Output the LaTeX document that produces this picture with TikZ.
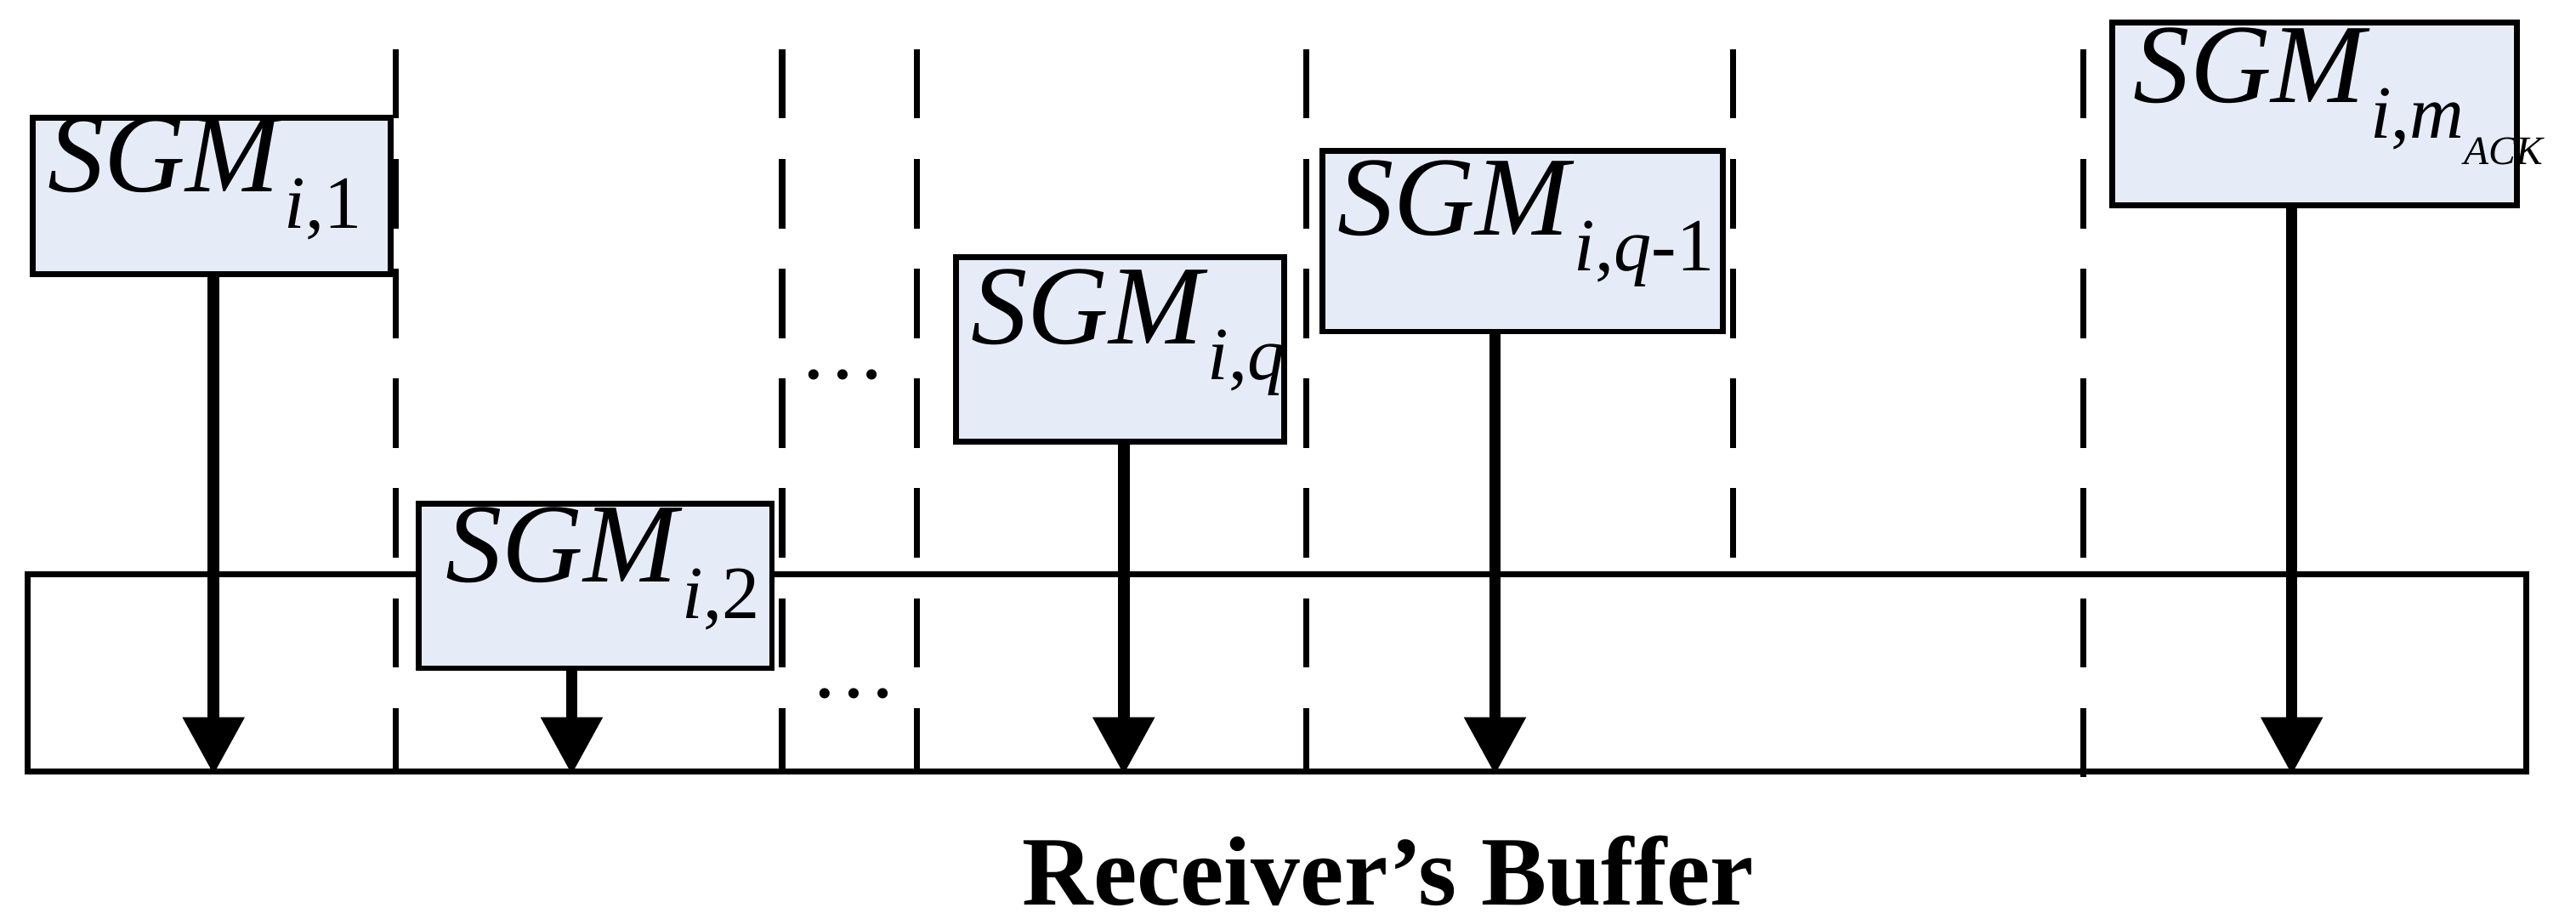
\documentclass[tikz,border=0pt]{standalone}
\usepackage{fontspec}
\setmainfont{Liberation Serif}
\usetikzlibrary{arrows.meta}
\newcommand{\sgm}[1]{\fontsize{19.5}{22}\selectfont\textit{SGM}\raisebox{-0.32em}{\fontsize{13}{14}\selectfont #1}}
\begin{document}
\begin{tikzpicture}[x=0.01cm,y=-0.01cm,
  box/.style={draw=black,line width=1pt,fill={rgb,255:red,230;green,236;blue,247},inner sep=0pt,anchor=north west},
  txt/.style={anchor=west,inner sep=0pt},
  vdash/.style={line width=1.1pt,dash pattern=on 12pt off 7pt},
  arr/.style={line width=2pt,-{Triangle[width=0.36cm,length=0.35cm]}}]
\useasboundingbox (0,0) rectangle (1568,559);
\node[draw=black,line width=1pt,minimum width=15.2cm,minimum height=1.2cm,anchor=north west,inner sep=0pt] (buf) at (15,348) {};
\foreach \x/\t/\b [count=\i] in {241/30/470,476/30/470,558/30/470,795/30/470,1055/30/345,1268/30/475}
  \draw[vdash] (\x,\t) coordinate (dt\i) -- (\x,\b) coordinate (db\i);
\node[box,minimum width=2.18cm,minimum height=0.95cm] (b1) at (18,70) {};
\node[txt] at ([xshift=3pt,yshift=3pt]b1.west) {\sgm{\textit{i},1}};
\node[box,minimum width=2.15cm,minimum height=1.0cm] (b2) at (253,305) {};
\node[txt] at ([xshift=5pt,yshift=3pt]b2.west) {\sgm{\textit{i},2}};
\node[box,minimum width=2.0cm,minimum height=1.12cm] (bq) at (580,155) {};
\node[txt] at ([xshift=3pt,yshift=3pt]bq.west) {\sgm{\textit{i},\textit{q}}};
\node[box,minimum width=2.44cm,minimum height=1.1cm] (bq1) at (803,90) {};
\node[txt] at ([xshift=3pt,yshift=3pt]bq1.west) {\sgm{\textit{i},\textit{q}-1}};
\node[box,minimum width=2.46cm,minimum height=1.11cm] (bm) at (1284,12) {};
\node[txt] at ([xshift=4pt,yshift=3pt]bm.west) {\sgm{\textit{i},\textit{m}\raisebox{-0.35em}{\fontsize{7}{8}\selectfont\textit{ACK}}}};
\foreach \n/\x in {b1/130,b2/348,bq/684,bq1/910,bm/1395}{
  \coordinate (s\n) at (\x,0);
  \draw[arr] (s\n |- \n.south) -- (s\n |- buf.south);
}
\node (d1) at (513,228) {\fontsize{15}{16}\selectfont …};
\node (d2) at (520,422) {\fontsize{15}{16}\selectfont …};
\node (lab) at (845,530) {\fontsize{17}{19}\selectfont\bfseries Receiver’s Buffer};
\end{tikzpicture}
\end{document}
